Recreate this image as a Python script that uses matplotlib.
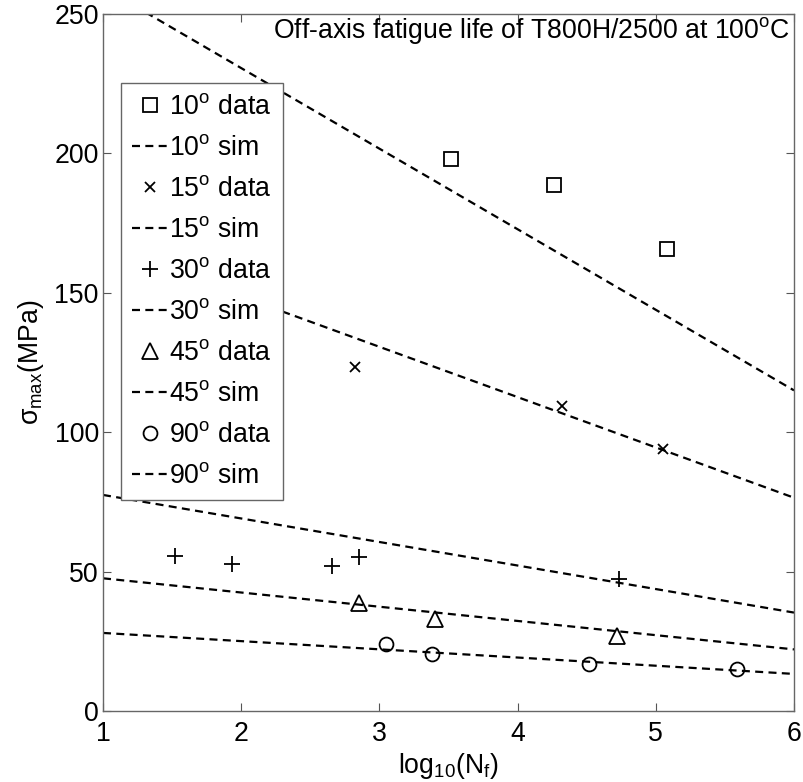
import matplotlib
matplotlib.use("Agg")
import matplotlib.pyplot as plt
import numpy as np

plt.rcParams['font.family'] = ['Liberation Sans', 'DejaVu Sans']
plt.rcParams['mathtext.fontset'] = 'custom'
plt.rcParams['mathtext.rm'] = 'Liberation Sans'
plt.rcParams['mathtext.it'] = 'Liberation Sans'
plt.rcParams['mathtext.bf'] = 'Liberation Sans'

# ---- data ----
x10 = [3.52, 4.26, 5.08]
y10 = [198.0, 188.7, 165.7]
sim10_x = [1.0, 6.0]
sim10_y = [259.5, 115.0]

x15 = [2.82, 4.32, 5.05]
y15 = [123.5, 109.4, 93.9]
sim15_x = [1.3, 6.0]
sim15_y = [161.3, 76.5]

x30 = [1.52, 1.93, 2.66, 2.855, 4.735]
y30 = [55.6, 52.7, 52.0, 55.1, 47.2]
sim30_x = [1.0, 6.0]
sim30_y = [77.5, 35.3]

x45 = [2.855, 3.40, 4.72]
y45 = [38.6, 32.9, 27.0]
sim45_x = [1.0, 6.0]
sim45_y = [47.6, 22.1]

x90 = [3.05, 3.38, 4.52, 5.585]
y90 = [24.0, 20.5, 17.0, 15.1]
sim90_x = [1.0, 6.0]
sim90_y = [28.0, 13.3]

angles = ['10', '15', '30', '45', '90']
markers = ['s', 'x', '+', '^', 'o']
msizes = [10.5, 7, 12, 11, 10]
data_x = [x10, x15, x30, x45, x90]
data_y = [y10, y15, y30, y45, y90]
sims_x = [sim10_x, sim15_x, sim30_x, sim45_x, sim90_x]
sims_y = [sim10_y, sim15_y, sim30_y, sim45_y, sim90_y]

xticks = [1, 2, 3, 4, 5, 6]
yticks = [0, 50, 100, 150, 200, 250]

FS = 19.2

fig = plt.figure(figsize=(8.04, 7.82), dpi=100)
ax = fig.add_axes([103/804, 1-711/782, 691/804, 697/782])

for ang, m, ms, dx, dy, sx, sy in zip(angles, markers, msizes, data_x, data_y, sims_x, sims_y):
    ax.plot(dx, dy, linestyle='none', marker=m, markersize=ms,
            markerfacecolor='none', markeredgecolor='black', markeredgewidth=1.3,
            label=ang + r'$^\mathrm{o}$ data')
    ax.plot(sx, sy, color='black', linestyle=(0, (3.6, 2.4)), linewidth=1.6,
            label=ang + r'$^\mathrm{o}$ sim')

ax.set_xlim(1, 6)
ax.set_ylim(0, 250)
ax.set_xticks(xticks)
ax.set_yticks(yticks)
ax.tick_params(direction='in', top=True, right=True, length=6, width=0.8,
               labelsize=FS, colors='#555555', labelcolor='black', pad=3)
ax.tick_params(axis='x', pad=7)
for s in ax.spines.values():
    s.set_color('#666666')
    s.set_linewidth(1.0)

ax.set_xlabel(r'log$_{10}$(N$_f$)', fontsize=FS, labelpad=3)
ax.set_ylabel(r'$\sigma_{max}$(MPa)', fontsize=FS, labelpad=6)

ax.text(5.97, 244, r'Off-axis fatigue life of T800H/2500 at 100$^\mathrm{o}$C',
        ha='right', va='center', fontsize=FS)

leg = ax.legend(loc='upper left', bbox_to_anchor=(0.0256, 0.9006),
                borderaxespad=0, fancybox=False, framealpha=1,
                edgecolor='#666666', fontsize=FS, handlelength=1.35,
                handletextpad=0.05, labelspacing=0.56, borderpad=0.42)
leg.get_frame().set_linewidth(1.0)

fig.savefig('out.png', dpi=100)
